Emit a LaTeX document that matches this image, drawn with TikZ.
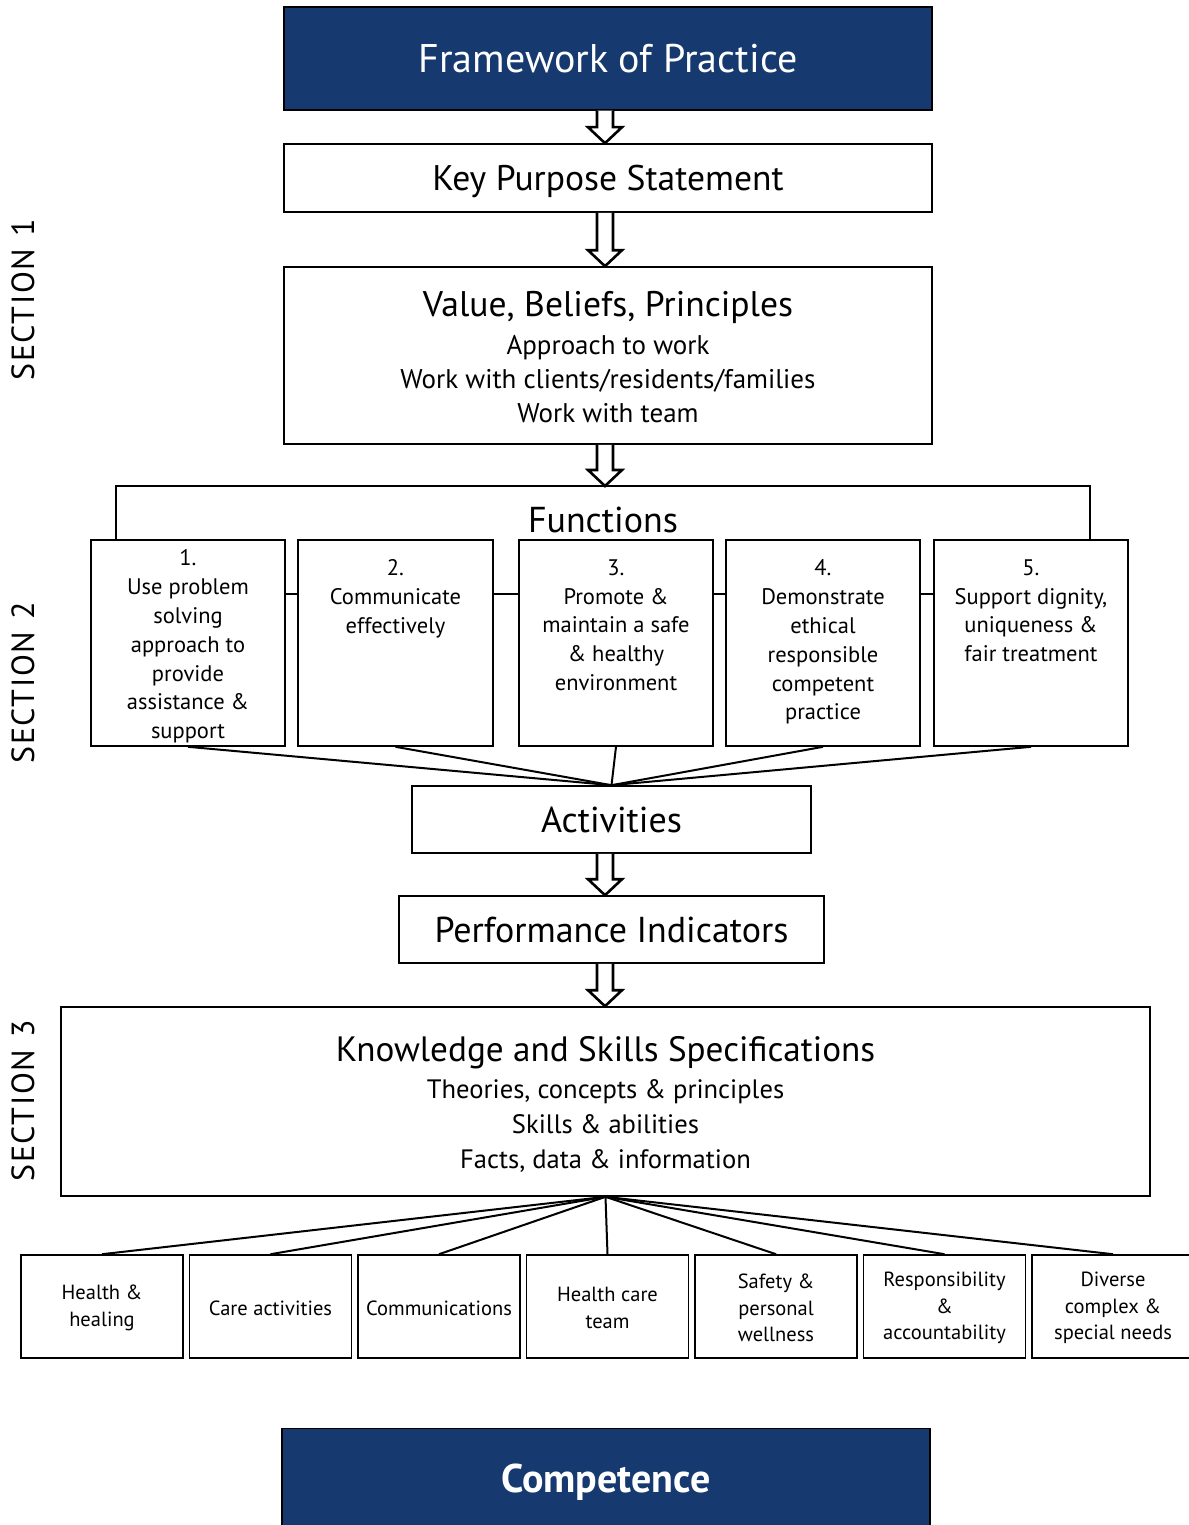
\documentclass[tikz,border=0pt]{standalone}
\usepackage{fontspec}
\setmainfont{PT Sans}
\usetikzlibrary{calc}
\definecolor{navy}{RGB}{22,58,112}
\newcommand\fs[1]{\fontsize{#1}{#1}\selectfont}
\newcommand\harrow[2]{\draw[harrowsty] let \p1=(#1), \p2=(#2), \p3=(ax) in
  (\x3-8pt,\y1) -- (\x3-8pt,\y2+16pt) -- (\x3-17pt,\y2+16pt) -- (\x3,\y2)
  -- (\x3+17pt,\y2+16pt) -- (\x3+8pt,\y2+16pt) -- (\x3+8pt,\y1);}
\begin{document}
\begin{tikzpicture}[x=1pt,y=-1pt,
  box/.style={draw,line width=1.6pt,fill=white,inner sep=0pt},
  navybox/.style={draw=black,line width=1.2pt,fill=navy,text=white,inner sep=0pt},
  harrowsty/.style={draw,line width=2.6pt,fill=white,line join=miter},
  link/.style={line width=2pt},
  ftext/.style={anchor=north,align=center,font=\fs{22.5},text depth=0pt,inner sep=0pt},
  btext/.style={align=center,font=\fs{20.5},inner sep=0pt},
  sect/.style={rotate=90,font=\fs{32}\addfontfeatures{LetterSpace=5}}
  ]
\useasboundingbox (0,0) rectangle (1188,1525);
\fill[white] (0,0) rectangle (1188,1525);
\coordinate (ax) at (605,0);

% top boxes
\node[navybox,minimum width=648,minimum height=103] (fw) at (608,58.5) {\fs{40}Framework of Practice};
\node[box,minimum width=648,minimum height=68] (kp) at (608,178) {};
\node[font=\fs{35.6}] (kpt) at (608,181.5) {Key Purpose Statement};
\node[box,minimum width=648,minimum height=177] (vb) at (608,355.5) {};
\node[font=\fs{35.6}] (vbt) at (608,307) {Value, Beliefs, Principles};
\node[font=\fs{27},align=center] (vbs) at (608,379) {Approach to work\\[7pt]Work with clients/residents/families\\[7pt]Work with team};

% functions
\coordinate (bt) at (605,486);
\node[font=\fs{36}] (fn) at (603,520) {Functions};
\node[box,minimum width=194,minimum height=206] (f1) at (188,643) {};
\node[box,minimum width=195,minimum height=206] (f2) at (395.5,643) {};
\node[box,minimum width=194,minimum height=206] (f3) at (616,643) {};
\node[box,minimum width=194,minimum height=206] (f4) at (823,643) {};
\node[box,minimum width=194,minimum height=206] (f5) at (1031,643) {};
\draw[link] ([xshift=26]f1.north west) |- (bt) -| ([xshift=-39]f5.north east);
\foreach \a/\b in {f1/f2,f2/f3,f3/f4,f4/f5}
  \draw[link] ([yshift=-55]\a.north east) -- ([yshift=-55]\b.north west);
\node[ftext] (f1t) at ([yshift=-10]f1.north) {1.\\[6.4pt]Use problem\\[6.4pt]solving\\[6.4pt]approach to\\[6.4pt]provide\\[6.4pt]assistance \&\\[6.4pt]support};
\node[ftext] (f2t) at ([yshift=-20]f2.north) {2.\\[6.4pt]Communicate\\[6.4pt]effectively};
\node[ftext] (f3t) at ([yshift=-20]f3.north) {3.\\[6.4pt]Promote \&\\[6.4pt]maintain a safe\\[6.4pt]\& healthy\\[6.4pt]environment};
\node[ftext] (f4t) at ([yshift=-20]f4.north) {4.\\[6.4pt]Demonstrate\\[6.4pt]ethical\\[6.4pt]responsible\\[6.4pt]competent\\[6.4pt]practice};
\node[ftext] (f5t) at ([yshift=-20]f5.north) {5.\\[6.4pt]Support dignity,\\[6.4pt]uniqueness \&\\[6.4pt]fair treatment};

% activities etc
\node[box,minimum width=399,minimum height=67] (act) at (611.5,819.5) {\fs{36}Activities};
\foreach \f in {f1,f2,f3,f4,f5} \draw[link] (\f.south) -- (act.north);
\node[box,minimum width=425,minimum height=67] (pi) at (611.5,929.5) {\fs{36}Performance Indicators};
\node[box,minimum width=1089,minimum height=189] (ks) at (605.5,1101.5) {};
\node[font=\fs{35.2}] (kst) at (605.5,1053) {Knowledge and Skills Specifications};
\node[font=\fs{26.6},align=center] (kss) at (605.5,1126) {Theories, concepts \& principles\\[8.4pt]Skills \& abilities\\[8.4pt]Facts, data \& information};

% hollow arrows
\harrow{fw.south}{kp.north}
\harrow{kp.south}{vb.north}
\harrow{vb.south}{bt}
\harrow{act.south}{pi.north}
\harrow{pi.south}{ks.north}

% bottom boxes
\foreach \i/\x/\t in {1/102/{Health \&\\[6pt]healing},2/270.5/{Care activities},3/439/{Communications},4/607.5/{Health care\\[6pt]team},5/776/{Safety \&\\[6pt]personal\\[6pt]wellness},6/944.5/{Responsibility\\[6pt]\&\\[6pt]accountability},7/1113/{Diverse\\[6pt]complex \&\\[6pt]special needs}}{
  \node[box,minimum width=162,minimum height=103] (b\i) at (\x,1306.5) {};
  \node[btext] (b\i t) at (\x,1308) {\t};
  \draw[link] (ks.south) -- (b\i.north);
}

% competence
\node[navybox,minimum width=648,minimum height=110,anchor=north] (cp) at (606,1428) {};
\node[text=white,font=\fs{40}\bfseries] (cpt) at (606,1482) {Competence};

% section labels
\node[sect] (s1) at (23,300) {SECTION\hspace{12pt}1};
\node[sect] (s2) at (23,683) {SECTION\hspace{12pt}2};
\node[sect] (s3) at (23,1101) {SECTION\hspace{12pt}3};
\end{tikzpicture}
\end{document}
